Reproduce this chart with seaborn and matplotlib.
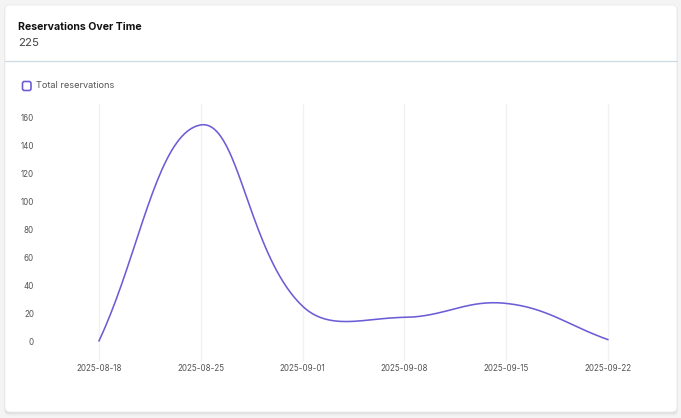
import numpy as np
import pandas as pd
import seaborn as sns
import matplotlib.pyplot as plt
from matplotlib.patches import FancyBboxPatch

# data
dates = ['2025-08-18', '2025-08-25', '2025-09-01', '2025-09-08', '2025-09-15', '2025-09-22']
reservations = [0, 155, 25, 17, 27, 1]
y_ticks = [0, 20, 40, 60, 80, 100, 120, 140, 160]

card_title = 'Reservations Over Time'
card_total = '225'
series_name = 'Total reservations'
line_color = '#6c5dd6'

W, H = 681, 418
# plot area in pixels (left, right, top, bottom)
ax_left, ax_right, ax_top, ax_bottom = 48, 659, 104, 361
ymin, ymax = -14.3, 170


def smooth(xs, ys, tension=0.4, n=40):
    """Bezier smoothing like chart.js 'tension', done in pixel space."""
    sx = (ax_right - ax_left) / 6
    sy = (ax_bottom - ax_top) / (ymax - ymin)
    pts = np.column_stack([np.asarray(xs, float) * sx, np.asarray(ys, float) * sy])
    k = len(pts)
    c_prev, c_next = pts.copy(), pts.copy()
    for i in range(k):
        p0, p1, p2 = pts[max(i - 1, 0)], pts[i], pts[min(i + 1, k - 1)]
        d01, d12 = np.hypot(*(p1 - p0)), np.hypot(*(p2 - p1))
        tot = d01 + d12
        s01 = d01 / tot if tot else 0
        s12 = d12 / tot if tot else 0
        c_prev[i] = p1 - tension * s01 * (p2 - p0)
        c_next[i] = p1 + tension * s12 * (p2 - p0)
    t = np.linspace(0, 1, n)[:, None]
    segs = []
    for i in range(k - 1):
        a, b, c, d = pts[i], c_next[i], c_prev[i + 1], pts[i + 1]
        seg = (1 - t) ** 3 * a + 3 * (1 - t) ** 2 * t * b + 3 * (1 - t) * t ** 2 * c + t ** 3 * d
        segs.append(seg if i == 0 else seg[1:])
    out = np.vstack(segs)
    return out[:, 0] / sx, out[:, 1] / sy


sns.set_theme(style='white')
plt.rcParams['font.family'] = ['Inter', 'DejaVu Sans']

fig = plt.figure(figsize=(W / 100, H / 100), dpi=100)
fig.patch.set_facecolor('#f4f4f5')

# background layer in pixel units: card, header, legend
bg = fig.add_axes([0, 0, 1, 1], zorder=0)
bg.set_xlim(0, W)
bg.set_ylim(H, 0)
bg.axis('off')

for off, a in [(3, 0.025), (2, 0.035), (1, 0.045)]:
    bg.add_patch(FancyBboxPatch((5 - off * 0.3, 5 + off * 0.2), 672 + off * 0.6, 407 + off,
                                boxstyle='round,pad=0,rounding_size=5',
                                fc='black', ec='none', alpha=a))
bg.add_patch(FancyBboxPatch((5, 5), 672, 407, boxstyle='round,pad=0,rounding_size=5',
                            fc='white', ec='#ececee', lw=0.6))

bg.text(18, 26.5, card_title, fontsize=7.6, fontweight='bold', color='#111111', va='center')
bg.text(18, 43, card_total, fontsize=8.2, color='#444444', va='center')
bg.plot([5, 677], [60.5, 60.5], color='#cdd9e1', lw=0.9)

bg.add_patch(FancyBboxPatch((22.5, 81.5), 8.5, 9, boxstyle='round,pad=0,rounding_size=2',
                            fc='white', ec=line_color, lw=1.2))
bg.text(36, 86, series_name, fontsize=6.6, color='#555555', va='center')

# chart
ax = fig.add_axes([ax_left / W, 1 - ax_bottom / H, (ax_right - ax_left) / W, (ax_bottom - ax_top) / H],
                  zorder=1)
ax.set_facecolor('none')

cx, cy = smooth(range(len(dates)), reservations)
curve = pd.DataFrame({'x': cx, 'y': cy})
sns.lineplot(data=curve, x='x', y='y', sort=False, color=line_color, lw=1.15, ax=ax)

ax.set_xlim(-0.5, len(dates) - 0.5)
ax.set_ylim(ymin, ymax)
ax.set_xticks(range(len(dates)))
ax.set_xticklabels(dates)
ax.set_yticks(y_ticks)
ax.set_yticklabels([str(v) for v in y_ticks])
ax.tick_params(axis='both', length=0, labelsize=5.8, labelcolor='#555555')
ax.tick_params(axis='y', pad=10)
ax.tick_params(axis='x', pad=2)
ax.set_xlabel('')
ax.set_ylabel('')
ax.grid(axis='x', color='#f1f1f4', lw=1)
ax.grid(axis='y', visible=False)
for s in ax.spines.values():
    s.set_visible(False)

fig.savefig('out.png', dpi=100)
